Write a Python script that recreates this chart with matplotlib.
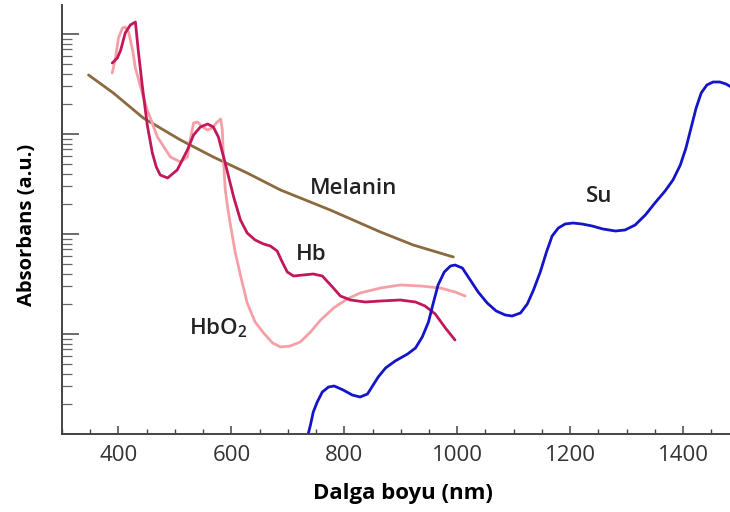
import numpy as np
import matplotlib
matplotlib.use('Agg')
import matplotlib.pyplot as plt
from matplotlib.ticker import FixedLocator, MultipleLocator, LogLocator, NullFormatter

plt.rcParams['font.family'] = ['Open Sans', 'DejaVu Sans']

# dalga boyu (nm) ve log10(absorbans) degerleri
hb_nm = [389, 398, 404, 412, 421, 430, 435, 442, 451, 460, 467, 474, 487, 504, 522,
         533, 545, 558, 568, 577, 589, 604, 616, 628, 642, 657, 669, 681,
         690, 699, 710, 727, 745, 761, 779, 793, 811, 837, 864, 899, 926, 943, 961,
         979, 996]
hb_log = [3.71, 3.76, 3.84, 4.01, 4.09, 4.12, 3.84, 3.49, 3.09, 2.81, 2.67, 2.59, 2.56,
          2.64, 2.84, 2.99, 3.07, 3.10, 3.07, 2.97, 2.71, 2.37, 2.14, 2.01,
          1.94, 1.90, 1.88, 1.83, 1.72, 1.62, 1.58, 1.59, 1.60, 1.58, 1.47, 1.38, 1.34,
          1.32, 1.33, 1.34, 1.32, 1.28, 1.20, 1.06, 0.94]

hbo2_nm = [389, 395, 400, 407, 412, 418, 425, 430, 442, 451, 469, 492, 510, 522, 527,
           533, 540, 549, 558, 566, 575, 581, 584, 586, 589, 594, 598, 607, 618, 628,
           642, 657, 673, 687, 704, 722, 740, 758, 781, 805, 828, 864, 899, 935, 970,
           996, 1014]
hbo2_log = [3.61, 3.77, 3.96, 4.06, 4.07, 4.02, 3.84, 3.66, 3.41, 3.24, 2.97, 2.77, 2.72,
            2.77, 2.94, 3.11, 3.12, 3.07, 3.04, 3.06, 3.12, 3.15, 3.04, 2.74, 2.45, 2.24,
            2.10, 1.81, 1.54, 1.31, 1.12, 1.01, 0.91, 0.87, 0.88, 0.92, 1.02, 1.14, 1.26,
            1.35, 1.41, 1.46, 1.49, 1.48, 1.46, 1.42, 1.38]

mel_nm = [347, 391, 444, 510, 568, 628, 687, 775, 864, 922, 993]
mel_log = [3.59, 3.41, 3.16, 2.94, 2.77, 2.61, 2.44, 2.24, 2.02, 1.89, 1.77]

su_nm = [736, 740, 745, 752, 761, 772, 782, 798, 814, 828, 841, 851, 860, 873, 890,
         912, 926, 938, 949, 958, 966, 977, 988, 996, 1009, 1023, 1037, 1053, 1069,
         1085, 1097, 1112, 1124, 1135, 1147, 1158, 1168, 1179, 1191, 1205, 1221, 1239,
         1258, 1280, 1297, 1315, 1333, 1350, 1368, 1382, 1395, 1405, 1414, 1423, 1432,
         1442, 1453, 1465, 1476, 1485]
su_log = [0.00, 0.09, 0.22, 0.32, 0.42, 0.47, 0.48, 0.44, 0.39, 0.37, 0.40, 0.49, 0.57,
          0.66, 0.73, 0.80, 0.86, 0.97, 1.12, 1.32, 1.49, 1.62, 1.68, 1.69, 1.66, 1.54,
          1.42, 1.31, 1.23, 1.19, 1.18, 1.21, 1.30, 1.44, 1.62, 1.82, 1.98, 2.06, 2.10,
          2.11, 2.10, 2.08, 2.05, 2.03, 2.04, 2.09, 2.19, 2.31, 2.43, 2.54, 2.69, 2.86,
          3.06, 3.26, 3.41, 3.49, 3.52, 3.52, 3.50, 3.47]

x_ticks = [400, 600, 800, 1000, 1200, 1400]


def absorbance_plot():
    fig = plt.figure(figsize=(7.3, 5.12), dpi=100)
    ax = fig.add_axes([62 / 730, 78 / 512, 668 / 730, 429 / 512])

    kw_line = dict(lw=2.0, solid_joinstyle='round', solid_capstyle='round')
    ax.plot(mel_nm, 10 ** np.array(mel_log), color='#8a6a3e', **kw_line)
    ax.plot(hbo2_nm, 10 ** np.array(hbo2_log), color='#f4a0a6', **kw_line)
    ax.plot(hb_nm, 10 ** np.array(hb_log), color='#c2185b', **kw_line)
    ax.plot(su_nm, 10 ** np.array(su_log), color='#1414c8', **kw_line)

    ax.set_yscale('log')
    ax.set_xlim(300, 1483)
    ax.set_ylim(1, 10 ** 4.29)

    ax.spines['top'].set_visible(False)
    ax.spines['right'].set_visible(False)
    for s in ['left', 'bottom']:
        ax.spines[s].set_color('#444444')
        ax.spines[s].set_linewidth(1.4)

    ax.xaxis.set_major_locator(FixedLocator(x_ticks))
    ax.xaxis.set_minor_locator(MultipleLocator(50))
    ax.tick_params(axis='x', which='major', direction='in', length=6, width=1.1,
                   color='#444444', labelsize=16, labelcolor='#333333', pad=8)
    ax.tick_params(axis='x', which='minor', direction='in', length=3.5, width=1.0,
                   color='#444444')

    ax.yaxis.set_major_locator(LogLocator(base=10, numticks=10))
    ax.yaxis.set_minor_locator(LogLocator(base=10, subs=np.arange(2, 10), numticks=20))
    ax.yaxis.set_major_formatter(NullFormatter())
    ax.yaxis.set_minor_formatter(NullFormatter())
    ax.tick_params(axis='y', which='major', direction='in', length=12, width=1.1,
                   color='#444444')
    ax.tick_params(axis='y', which='minor', direction='in', length=7, width=0.9,
                   color='#666666')

    # egri etiketleri
    kw = dict(fontsize=16, fontweight='semibold', color='#222222', ha='center', va='center')
    ax.text(816, 10 ** 2.46, 'Melanin', **kw)
    ax.text(741, 10 ** 1.79, 'Hb', **kw)
    ax.text(577, 10 ** 1.06, r'HbO$_{\mathregular{2}}$', **kw)
    ax.text(1251, 10 ** 2.37, 'Su', **kw)

    fig.text(27 / 730, 1 - 225 / 512, 'Absorbans (a.u.)', rotation=90, fontsize=14.5,
             fontweight='bold', color='black', ha='center', va='center')
    fig.text(403 / 730, 1 - 493 / 512, 'Dalga boyu (nm)', fontsize=16,
             fontweight='bold', color='black', ha='center', va='center')

    fig.savefig('out.png', dpi=100)


if __name__ == '__main__':
    absorbance_plot()
